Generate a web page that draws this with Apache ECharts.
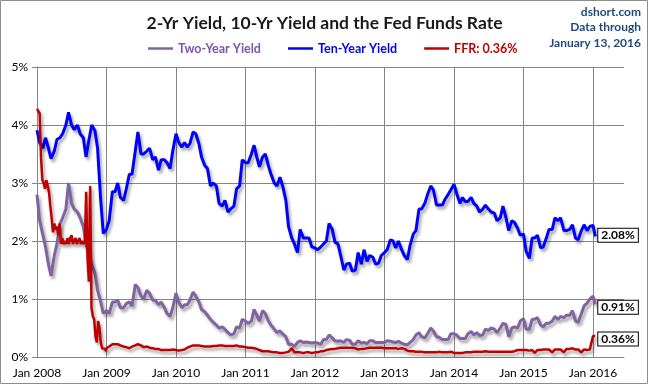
<!DOCTYPE html>
<html>
<head>
<meta charset="utf-8">
<script src="https://cdn.jsdelivr.net/npm/echarts@6/dist/echarts.min.js"></script>
<style>
html,body{margin:0;padding:0;background:#fff;}
#chart{width:649px;height:385px;}
</style>
</head>
<body>
<div id="chart"></div>
<script>
// ---- Data ----
// Semi-monthly sample dates: 1st and 15th of each month, 2008-01 .. 2015-12, plus Jan 2016
const dates = [];
for (let y = 2008; y <= 2015; y++) {
  for (let m = 1; m <= 12; m++) {
    const mm = (m < 10 ? '0' : '') + m;
    dates.push(y + '-' + mm + '-01', y + '-' + mm + '-15');
  }
}
dates.push('2016-01-01', '2016-01-13');

const tenYear = [
  3.91,3.70,3.60,3.78,3.60,3.42,3.55,3.75,3.78,3.85,4.00,4.22,4.00,3.92,4.00,3.85,3.78,3.45,3.75,4.00,3.90,3.60,2.73,2.13,
  2.20,2.35,2.85,2.85,3.00,2.75,2.70,2.90,3.15,3.15,3.55,3.88,3.50,3.50,3.55,3.60,3.40,3.45,3.22,3.40,3.40,3.35,3.25,3.55,
  3.85,3.70,3.62,3.70,3.62,3.68,3.88,3.85,3.68,3.45,3.30,3.25,2.95,3.00,2.95,2.65,2.60,2.70,2.50,2.55,2.60,2.90,2.95,3.40,
  3.35,3.35,3.50,3.65,3.45,3.28,3.45,3.50,3.30,3.15,3.00,2.95,3.10,2.95,2.70,2.25,2.05,1.95,1.80,2.20,2.05,2.05,2.05,1.90,
  1.88,1.85,1.90,1.95,2.00,2.30,2.20,1.98,1.95,1.75,1.50,1.60,1.62,1.48,1.50,1.80,1.60,1.85,1.65,1.75,1.72,1.60,1.62,1.75,
  1.80,1.85,2.02,2.00,1.88,2.00,1.85,1.75,1.68,1.92,2.12,2.18,2.55,2.55,2.65,2.80,2.95,2.88,2.62,2.62,2.62,2.72,2.80,2.88,
  2.98,2.82,2.65,2.75,2.68,2.68,2.75,2.65,2.60,2.50,2.55,2.62,2.55,2.50,2.48,2.35,2.40,2.60,2.40,2.18,2.35,2.32,2.22,2.10,
  2.12,1.82,1.70,2.05,2.05,2.10,1.88,1.90,2.05,2.20,2.20,2.40,2.35,2.40,2.18,2.18,2.20,2.28,2.05,2.02,2.18,2.28,2.18,2.25,
  2.27,2.08
];

const twoYear = [
  2.80,2.35,2.10,1.90,1.60,1.40,1.75,1.95,2.30,2.40,2.55,3.00,2.65,2.55,2.50,2.40,2.25,1.95,1.75,1.60,1.45,1.15,0.95,0.75,
  0.80,0.75,0.95,0.95,0.98,0.85,0.85,0.92,0.95,0.88,1.25,1.20,1.05,1.00,1.15,1.10,0.98,0.98,0.90,0.95,0.85,0.75,0.70,0.85,
  1.10,0.95,0.85,0.90,0.90,0.98,1.12,1.05,0.95,0.82,0.78,0.72,0.65,0.60,0.55,0.50,0.52,0.48,0.42,0.38,0.40,0.52,0.50,0.65,
  0.62,0.58,0.62,0.82,0.72,0.62,0.80,0.75,0.62,0.55,0.48,0.42,0.45,0.40,0.35,0.22,0.22,0.18,0.25,0.28,0.25,0.26,0.25,0.24,
  0.25,0.24,0.22,0.30,0.30,0.38,0.33,0.28,0.27,0.28,0.25,0.30,0.29,0.22,0.22,0.28,0.24,0.25,0.23,0.28,0.28,0.25,0.25,0.25,
  0.25,0.28,0.27,0.26,0.25,0.27,0.24,0.22,0.21,0.25,0.30,0.38,0.42,0.35,0.33,0.40,0.50,0.45,0.35,0.34,0.30,0.30,0.30,0.40,
  0.40,0.38,0.32,0.32,0.32,0.40,0.44,0.38,0.42,0.37,0.38,0.48,0.46,0.50,0.48,0.42,0.50,0.58,0.56,0.35,0.50,0.52,0.50,0.62,
  0.66,0.48,0.48,0.65,0.65,0.68,0.55,0.52,0.58,0.58,0.62,0.70,0.65,0.70,0.68,0.72,0.72,0.80,0.62,0.60,0.75,0.88,0.93,1.00,
  1.05,0.91
];

// Fed funds: weekly through 2008 (volatile), then semi-monthly from 2009
const ffr2008Dates = [];
for (let k = 0; k < 53; k++) {
  const d = new Date(Date.UTC(2008, 0, 1 + 7 * k));
  ffr2008Dates.push(d.toISOString().slice(0, 10));
}
const ffr2008 = [
  4.28,4.25,4.20,3.45,3.05, 3.00,2.90,3.05,2.95, 2.85,2.60,2.40,2.15,
  2.30,2.20,2.25,2.10,2.30, 1.95,2.05,1.95,2.00, 1.95,2.05,1.95,2.05,
  2.10,1.95,2.00,2.05,1.95, 2.00,2.05,1.95,2.00, 1.95,2.00,2.85,1.70,1.30,
  2.95,0.85,0.70,0.65, 0.35,0.25,0.62,0.50, 0.25,0.15,0.12,0.14,0.10
];
const ffrLater = [
  0.15,0.18,0.22,0.22,0.22,0.20,0.18,0.17,0.15,0.18,0.20,0.22,0.20,0.17,0.18,0.16,0.15,0.14,0.14,0.12,0.12,0.12,0.12,0.13,
  0.12,0.11,0.12,0.13,0.16,0.18,0.20,0.20,0.20,0.19,0.18,0.18,0.18,0.19,0.19,0.20,0.20,0.19,0.19,0.19,0.19,0.20,0.18,0.18,
  0.17,0.16,0.16,0.15,0.14,0.12,0.10,0.10,0.10,0.09,0.08,0.08,0.07,0.07,0.08,0.09,0.15,0.08,0.08,0.08,0.07,0.08,0.08,0.07,
  0.08,0.08,0.10,0.10,0.12,0.13,0.14,0.14,0.15,0.16,0.16,0.16,0.16,0.16,0.15,0.13,0.14,0.14,0.15,0.16,0.16,0.16,0.16,0.16,
  0.15,0.15,0.15,0.15,0.15,0.14,0.15,0.14,0.11,0.10,0.10,0.09,0.09,0.09,0.08,0.08,0.08,0.08,0.08,0.09,0.08,0.08,0.08,0.09,
  0.07,0.07,0.07,0.07,0.08,0.08,0.08,0.09,0.09,0.09,0.09,0.10,0.09,0.09,0.09,0.09,0.09,0.09,0.09,0.09,0.09,0.10,0.12,0.12,
  0.12,0.12,0.11,0.12,0.07,0.12,0.12,0.13,0.13,0.13,0.08,0.13,0.13,0.13,0.08,0.14,0.14,0.15,0.13,0.13,0.08,0.13,0.12,0.13,
  0.36,0.36
];
const ffrLaterDates = dates.slice(24);

const xTicks = [2008, 2009, 2010, 2011, 2012, 2013, 2014, 2015, 2016];
const yTicks = [0, 1, 2, 3, 4, 5];

// ---- helpers ----
function toYear(s) {
  const p = s.split('-').map(Number);
  const t = Date.UTC(p[0], p[1] - 1, p[2]);
  const a = Date.UTC(p[0], 0, 1), b = Date.UTC(p[0] + 1, 0, 1);
  return p[0] + (t - a) / (b - a);
}
function pairs(ds, vs) { return ds.map((d, i) => [toYear(d), vs[i]]); }

const FONT = 'Lato';
const C_TWO = '#8064A2', C_TEN = '#0000FF', C_FFR = '#C00000';
const shadow = { shadowColor: 'rgba(0,0,0,0.35)', shadowBlur: 3, shadowOffsetX: 2, shadowOffsetY: 3 };
const endLbl = (dy) => ({
  show: true,
  formatter: p => p.value[1].toFixed(2) + '%',
  distance: 3,
  offset: [0, dy],
  backgroundColor: '#fff',
  borderColor: '#000',
  borderWidth: 1,
  padding: [1, 3, 0, 3],
  color: '#000',
  fontFamily: FONT,
  fontWeight: 'bold',
  fontSize: 12
});

const chart = echarts.init(document.getElementById('chart'), null, { renderer: 'canvas' });
chart.setOption({
  backgroundColor: '#fff',
  animation: false,
  textStyle: { fontFamily: FONT },
  title: {
    text: '2-Yr Yield, 10-Yr Yield and the Fed Funds Rate',
    left: 'center',
    top: 9,
    textStyle: { fontFamily: FONT, fontSize: 17.5, fontWeight: 'bold', color: '#1a1a1a' }
  },
  legend: {
    left: 148,
    top: 42,
    padding: 0,
    icon: 'rect',
    itemWidth: 25,
    itemHeight: 2.5,
    itemGap: 27,
    data: [
      { name: 'Two-Year Yield', textStyle: { color: '#7B55AE' } },
      { name: 'Ten-Year Yield', textStyle: { color: C_TEN } },
      { name: 'FFR: 0.36%', textStyle: { color: C_FFR } }
    ],
    textStyle: { fontFamily: FONT, fontSize: 12.5, fontWeight: 'bold' }
  },
  grid: { left: 37, right: 25, top: 67, bottom: 28 },
  xAxis: {
    type: 'value',
    min: xTicks[0],
    max: 2016.446,
    interval: 1,
    axisLine: { show: true, lineStyle: { color: '#868686', width: 1 } },
    axisTick: { show: false },
    splitLine: { show: true, showMaxLine: false, lineStyle: { color: '#868686', width: 1 } },
    axisLabel: {
      showMaxLabel: false,
      formatter: v => (xTicks.indexOf(v) >= 0 ? 'Jan ' + v : ''),
      color: '#000', fontSize: 12, fontFamily: FONT, margin: 10
    }
  },
  yAxis: {
    type: 'value',
    min: yTicks[0],
    max: yTicks[yTicks.length - 1],
    interval: 1,
    axisLine: { show: true, lineStyle: { color: '#868686', width: 1 } },
    axisTick: { show: true, length: 5, lineStyle: { color: '#868686' } },
    splitLine: { show: true, lineStyle: { color: '#868686', width: 1 } },
    axisLabel: { formatter: '{value}%', color: '#000', fontSize: 12, fontFamily: FONT, margin: 9 }
  },
  series: [
    {
      name: 'Two-Year Yield', type: 'line', symbol: 'none', showSymbol: false,
      data: pairs(dates, twoYear),
      itemStyle: { color: C_TWO },
      lineStyle: Object.assign({ color: C_TWO, width: 3 }, shadow),
      endLabel: endLbl(3), z: 2
    },
    {
      name: 'Ten-Year Yield', type: 'line', symbol: 'none', showSymbol: false,
      data: pairs(dates, tenYear),
      itemStyle: { color: C_TEN },
      lineStyle: Object.assign({ color: C_TEN, width: 3 }, shadow),
      endLabel: endLbl(-1), z: 3
    },
    {
      name: 'FFR: 0.36%', type: 'line', symbol: 'none', showSymbol: false,
      data: pairs(ffr2008Dates, ffr2008).concat(pairs(ffrLaterDates, ffrLater)),
      itemStyle: { color: C_FFR },
      lineStyle: Object.assign({ color: C_FFR, width: 2.5 }, shadow),
      endLabel: endLbl(3), z: 4
    }
  ],
  graphic: [
    { type: 'rect', shape: { x: 0.5, y: 0.5, width: 647, height: 383 }, style: { fill: 'none', stroke: '#8c8c8c', lineWidth: 1 }, silent: true },
    { type: 'text', right: 8, top: 6, style: { text: 'dshort.com', fill: '#1F497D', font: 'bold 12px ' + FONT, textAlign: 'right' } },
    { type: 'text', right: 8, top: 21, style: { text: 'Data through', fill: '#1F497D', font: 'bold 12px ' + FONT, textAlign: 'right' } },
    { type: 'text', right: 8, top: 37, style: { text: 'January 13, 2016', fill: '#1F497D', font: 'bold 12px ' + FONT, textAlign: 'right' } }
  ]
});
</script>
</body>
</html>
